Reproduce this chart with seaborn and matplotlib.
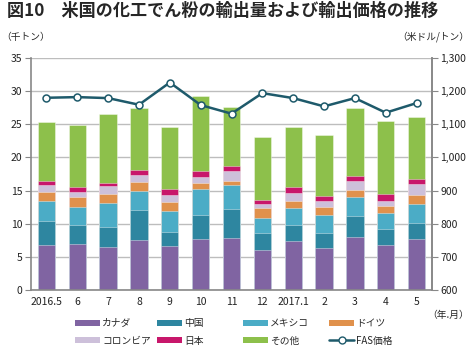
import numpy as np
import pandas as pd
import matplotlib
matplotlib.use("Agg")
import matplotlib.pyplot as plt
from matplotlib.patches import Patch
from matplotlib.lines import Line2D
from matplotlib.ticker import FuncFormatter, FixedLocator
import seaborn as sns

months = ["2016.5", "6", "7", "8", "9", "10", "11", "12", "2017.1", "2", "3", "4", "5"]

canada   = [6.8, 7.0, 6.5, 7.6, 6.7, 7.65, 7.9, 6.1, 7.35, 6.3, 8.05, 6.85, 7.65]
china    = [3.55, 2.75, 2.95, 4.45, 2.05, 3.65, 4.3, 2.5, 2.4, 2.3, 3.05, 2.3, 2.4]
mexico   = [3.05, 2.75, 3.6, 2.85, 3.15, 3.9, 3.6, 2.25, 2.6, 2.75, 2.9, 2.45, 2.85]
germany  = [1.4, 1.6, 1.45, 1.4, 1.4, 1.0, 0.6, 1.45, 1.15, 1.15, 1.1, 1.0, 1.5]
colombia = [1.1, 0.7, 1.2, 1.1, 1.0, 0.8, 1.6, 0.6, 1.2, 1.0, 1.3, 0.9, 1.6]
japan    = [0.5, 0.7, 0.5, 0.7, 0.9, 1.0, 0.7, 0.7, 0.8, 0.7, 0.8, 0.95, 0.8]
other    = [9.0, 9.4, 10.4, 9.4, 9.4, 11.2, 8.9, 9.5, 9.1, 9.2, 10.2, 11.1, 9.3]

fas_price = [1180, 1182, 1179, 1159, 1226, 1158, 1132, 1194, 1179, 1154, 1179, 1135, 1164]

series_names = ["カナダ", "中国", "メキシコ", "ドイツ", "コロンビア", "日本", "その他"]
series_vals = [canada, china, mexico, germany, colombia, japan, other]
series_colors = ["#8064A2", "#2E86A0", "#4BACC6", "#E0914C", "#CDC0DA", "#C8176B", "#8DC04B"]
line_color = "#1E5A6B"

sns.set_style("white")
plt.rcParams["font.family"] = ["Noto Sans CJK JP", "DejaVu Sans"]

fig = plt.figure(figsize=(4.70, 3.47), dpi=100)
ax = fig.add_axes([31 / 470, 1 - 290 / 347, (432 - 31) / 470, (290 - 58) / 347])

# stacked bars: draw cumulative totals from the top layer down
cum = np.cumsum(np.array(series_vals), axis=0)
for i in reversed(range(len(series_names))):
    df = pd.DataFrame({"month": months, "value": cum[i]})
    sns.barplot(data=df, x="month", y="value", order=months, color=series_colors[i],
                saturation=1, width=0.56, edgecolor=(1, 1, 1, 0.45), linewidth=0.6,
                ax=ax, zorder=2)

ax.set_xlim(-0.5, 12.5)
ax.set_ylim(0, 35)
ax.set_yticks(np.arange(0, 36, 5))
ax.yaxis.grid(True, color="#BDBDBD", linewidth=1.0, zorder=0)
ax.set_axisbelow(True)
ax.set_xlabel("")
ax.set_ylabel("")
ax.xaxis.set_minor_locator(FixedLocator(np.arange(-0.5, 13, 1)))
ax.tick_params(axis="x", which="major", length=0, labelsize=7.5, pad=5, colors="#222222")
ax.tick_params(axis="x", which="minor", length=3.5, width=0.8, color="#888888", direction="out")
ax.tick_params(axis="y", length=4, width=0.8, color="#888888", labelcolor="#222222",
               labelsize=7.5, pad=2, left=True, direction="out")
for s in ["left", "bottom", "right"]:
    ax.spines[s].set_color("#888888")
    ax.spines[s].set_linewidth(1.2)
ax.spines["top"].set_visible(False)

ax2 = ax.twinx()
sns.lineplot(x=np.arange(len(months)), y=fas_price, ax=ax2, color=line_color, linewidth=1.8,
             marker="o", markersize=5, markerfacecolor="white", markeredgecolor=line_color,
             markeredgewidth=1.1, zorder=5)
ax2.set_xlim(-0.5, 12.5)
ax2.set_ylim(600, 1300)
ax2.set_yticks(np.arange(600, 1301, 100))
ax2.yaxis.set_major_formatter(FuncFormatter(lambda v, p: f"{int(v):,}"))
ax2.tick_params(axis="y", length=4, width=0.8, color="#888888", labelcolor="#222222",
                labelsize=7.5, pad=2, right=True, direction="out")
ax2.grid(False)
for s in ["left", "top", "bottom"]:
    ax2.spines[s].set_visible(False)
ax2.spines["right"].set_color("#888888")
ax2.spines["right"].set_linewidth(1.2)
ax2.set_ylabel("")

fig.text(7 / 470, 1 - 2 / 347, "図10　米国の化工でん粉の輸出量および輸出価格の推移",
         fontsize=12.3, fontweight="bold", va="top", ha="left")
fig.text(1 / 470, 1 - 37 / 347, "（千トン）", fontsize=7, va="center", ha="left")
fig.text(469 / 470, 1 - 37 / 347, "（米ドル/トン）", fontsize=7, va="center", ha="right")
fig.text(469 / 470, 1 - 315 / 347, "（年.月）", fontsize=7, va="center", ha="right")

# legend: four fixed-width columns, two rows
handles = [Patch(facecolor=c, edgecolor="none") for c in series_colors]
handles.append(Line2D([0], [0], color=line_color, linewidth=1.8, marker="o", markersize=5,
                      markerfacecolor="white", markeredgecolor=line_color))
labels = series_names + ["FAS価格"]
col_x = [75, 157, 243, 329]
for c in range(4):
    idx = [c, c + 4]
    fig.legend([handles[i] for i in idx], [labels[i] for i in idx],
               loc="center left", bbox_to_anchor=(col_x[c] / 470, 1 - 332 / 347),
               frameon=False, fontsize=7, handlelength=2.6, handleheight=0.65,
               handletextpad=0.2, labelspacing=0.75, borderaxespad=0, borderpad=0)

fig.savefig("out.png", dpi=100)
